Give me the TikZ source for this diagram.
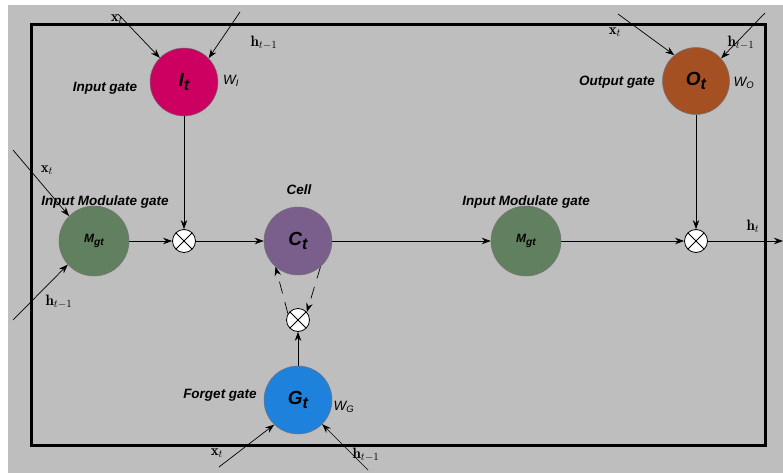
\documentclass[tikz,border=0pt]{standalone}
\usepackage{fontspec}
\setsansfont{Liberation Sans}
\usetikzlibrary{arrows.meta}

\definecolor{bggray}{RGB}{190,190,190}
\definecolor{inputc}{RGB}{204,0,96}
\definecolor{outputc}{RGB}{165,80,35}
\definecolor{modc}{RGB}{96,128,96}
\definecolor{cellc}{RGB}{122,94,140}
\definecolor{forgetc}{RGB}{30,130,220}

% lowered, slightly reduced subscript for the gate symbols
\newcommand{\gsub}[1]{\raisebox{-0.45ex}{\scalebox{0.85}{#1}}}

\begin{document}
\begin{tikzpicture}[x=1pt,y=-1pt,
  gate/.style={circle, draw=black!55, line width=0.5pt, inner sep=0pt,
    minimum size=68pt, font=\sffamily\bfseries\itshape\fontsize{19}{21}\selectfont},
  modgate/.style={gate, fill=modc, minimum size=70pt,
    font=\sffamily\bfseries\itshape\fontsize{12}{14}\selectfont},
  mult/.style={circle, draw=black, fill=white, line width=0.8pt,
    minimum size=23pt, inner sep=0pt,
    path picture={\draw[line width=0.8pt]
      (path picture bounding box.north west) -- (path picture bounding box.south east)
      (path picture bounding box.north east) -- (path picture bounding box.south west);}},
  flow/.style={-{Stealth[length=9pt,width=6.5pt]}, line width=0.7pt},
  fb/.style={flow, dash pattern=on 12pt off 9pt},
  lab/.style={inner sep=0pt, font=\sffamily\bfseries\itshape\fontsize{13.5}{15}\selectfont},
  mlab/.style={inner sep=0pt, font=\fontsize{15}{17}\selectfont},
  wlab/.style={inner sep=0pt, font=\sffamily\itshape\fontsize{13.5}{15}\selectfont}
]
\useasboundingbox (0,0) rectangle (783,473);
\fill[white] (0,0) rectangle (783,473);
\fill[bggray] (8,5) rectangle (783,473);

% cell boundary
\draw[line width=3pt] (31,25) rectangle (765,445);

% gates
\node[gate, fill=inputc] (It) at (184,82) {I\gsub{t}};
\node[gate, fill=outputc, minimum size=67pt] (Ot) at (696,81) {O\gsub{t}};
\node[modgate] (Mg1) at (94,241) {M\gsub{gt}};
\node[gate, fill=cellc] (Ct) at (298,241) {C\gsub{t}};
\node[modgate] (Mg2) at (526,241) {M\gsub{gt}};
\node[gate, fill=forgetc] (Gt) at (298,400) {G\gsub{t}};

% pointwise products
\node[mult] (m1) at (184,241) {};
\node[mult] (m2) at (696,241) {};
\node[mult] (m3) at (298,320) {};

% free ends of the input lines
\coordinate (ix) at (118,14);
\coordinate (ih) at (240,12);
\coordinate (ox) at (618,14);
\coordinate (oh) at (765,13);
\coordinate (mx) at (13,150);
\coordinate (mh) at (13,320);
\coordinate (gx) at (219,467);
\coordinate (gh) at (368,470);
\coordinate (hout) at (783,241);

% inputs
\draw[flow] (ix) -- (It.135);
\draw[flow] (ih) -- (It.44);
\draw[flow] (ox) -- (Ot.130);
\draw[flow] (oh) -- (Ot.42);
\draw[flow] (mx) -- (Mg1.135);
\draw[flow] (mh) -- (Mg1.222);
\draw[flow] (gx) -- (Gt.226);
\draw[flow] (gh) -- (Gt.315);

% main path
\draw[flow] (It) -- (m1);
\draw[flow] (Ot) -- (m2);
\draw[flow] (Mg1) -- (m1);
\draw[flow] (m1) -- (Ct);
\draw[flow] (Ct) -- (Mg2);
\draw[flow] (Mg2) -- (m2);
\draw[flow] (m2) -- (hout);
\draw[flow] (Gt) -- (m3);

% recurrent cell state
\draw[fb] (m3.148) -- (Ct.229);
\draw[fb] (Ct.311) -- (m3.42);

% labels
\node[mlab] at (117,19) {$\mathbf{x}_t$};
\node[mlab] at (264,43) {$\mathbf{h}_{t-1}$};
\node[lab] at (105,88) {Input gate};
\node[wlab] at (231,81) {W\textsubscript{I}};

\node[mlab] at (615,32) {$\mathbf{x}_t$};
\node[mlab] at (741,43) {$\mathbf{h}_{t-1}$};
\node[lab] at (617,82) {Output gate};
\node[wlab] at (744,83) {W\textsubscript{O}};

\node[mlab] at (47,170) {$\mathbf{x}_t$};
\node[lab] at (105,202) {Input Modulate gate};
\node[mlab] at (59,302) {$\mathbf{h}_{t-1}$};

\node[lab] at (299,190) {Cell};
\node[lab] at (526,202) {Input Modulate gate};
\node[mlab] at (753,226) {$\mathbf{h}_t$};

\node[lab] at (220,395) {Forget gate};
\node[wlab] at (344,407) {W\textsubscript{G}};
\node[mlab] at (217,453) {$\mathbf{x}_t$};
\node[mlab] at (366,455) {$\mathbf{h}_{t-1}$};
\end{tikzpicture}
\end{document}
